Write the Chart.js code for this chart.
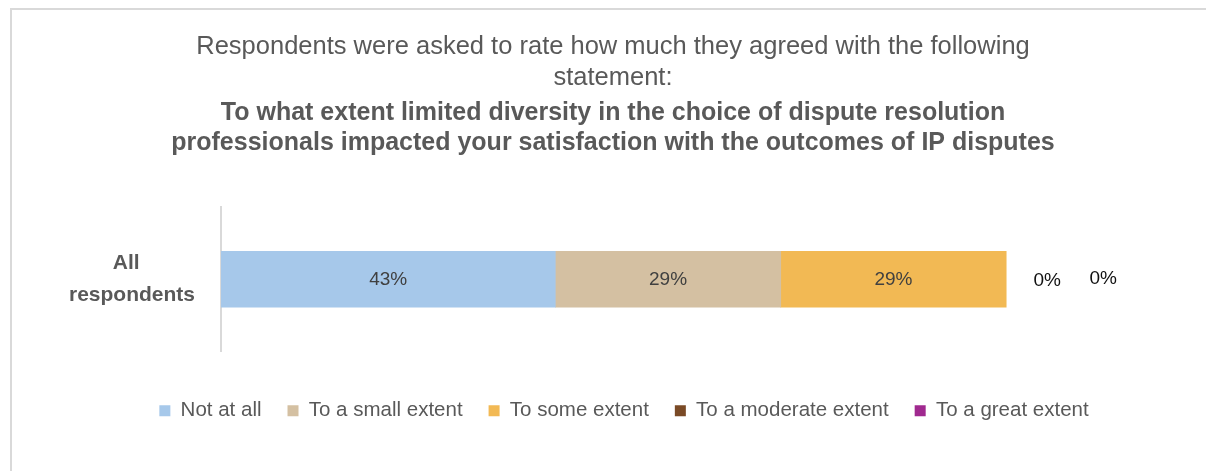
<!DOCTYPE html>
<html>
<head>
<meta charset="utf-8">
<script src="https://cdn.jsdelivr.net/npm/chart.js@4.4.1/dist/chart.umd.min.js"></script>
<style>
  html, body { margin: 0; padding: 0; background: #fff; }
  #wrap { position: relative; width: 1206px; height: 471px; overflow: hidden; }
  #frame { position: absolute; left: 10px; top: 8px; width: 1300px; height: 600px;
           border-left: 2px solid #d9d9d9; border-top: 2px solid #d9d9d9; box-sizing: border-box; }
  #myChart { position: absolute; left: 0; top: 0; }
</style>
</head>
<body>
<div id="wrap">
  <div id="frame"></div>
  <canvas id="myChart" width="1206" height="471"></canvas>
</div>
<script>
const CATEGORIES = [['All  ', 'respondents']];

const SERIES_NAMES = ['Not at all', 'To a small extent', 'To some extent', 'To a moderate extent', 'To a great extent'];
const SERIES_VALUES = [43, 29, 29, 0, 0];   // percent of respondents
const SERIES_COLORS = ['#a6c8ea', '#d4c0a2', '#f2b954', '#7a4a26', '#a0298f'];

const TITLE_LINES = ['Respondents were asked to rate how much they agreed with the following', 'statement:'];
const SUBTITLE_LINES = ['To what extent limited diversity in the choice of dispute resolution',
  'professionals impacted your satisfaction with the outcomes of IP disputes'];

const FONT = "'Liberation Sans', Arial, sans-serif";
const GREY = '#595959';

// value labels: inside the bar for non-zero parts, to the right of the bar for zero parts
const valueLabels = {
  id: 'valueLabels',
  afterDatasetsDraw(chart) {
    const c = chart.ctx;
    const xs = chart.scales.x;
    let zeroCount = 0;
    c.save();
    c.textAlign = 'center';
    c.textBaseline = 'middle';
    c.font = '19px ' + FONT;
    chart.data.datasets.forEach((ds, i) => {
      const bar = chart.getDatasetMeta(i).data[0];
      const v = ds.data[0];
      const txt = Math.round(v) + '%';
      if (v > 0) {
        c.fillStyle = '#404040';
        c.fillText(txt, (bar.base + bar.x) / 2, bar.y + 1);
      } else {
        let total = 0;
        chart.data.datasets.forEach(d => total += d.data[0]);
        const endX = xs.getPixelForValue(total);
        c.fillStyle = '#111';
        c.fillText(txt, endX + 41 + zeroCount * 56, bar.y + (zeroCount ? 0 : 2));
        zeroCount++;
      }
    });
    c.restore();
  }
};

// legend sits a little right of the canvas centre
const legendNudge = {
  id: 'legendNudge',
  afterLayout(chart) {
    chart.legend.left += 11;
    chart.legend.right += 11;
  }
};

const ctx = document.getElementById('myChart');

new Chart(ctx, {
  type: 'bar',
  data: {
    labels: CATEGORIES,
    datasets: SERIES_NAMES.map((name, i) => ({
      label: name,
      data: [SERIES_VALUES[i]],
      backgroundColor: SERIES_COLORS[i],
      borderWidth: 0,
      inflateAmount: SERIES_VALUES[i] === 0 ? 0 : 'auto',
      barThickness: 56
    }))
  },
  options: {
    indexAxis: 'y',
    responsive: false,
    animation: false,
    layout: { padding: { left: 20, right: 0, top: 0, bottom: 40 } },
    plugins: {
      tooltip: { enabled: false },
      title: {
        display: true,
        text: TITLE_LINES,
        color: GREY,
        font: { family: FONT, size: 25.5, weight: 'normal', lineHeight: 31 / 25.5 },
        padding: { top: 31.5, bottom: 0 }
      },
      subtitle: {
        display: true,
        text: SUBTITLE_LINES,
        color: GREY,
        font: { family: FONT, size: 25, weight: 'bold', lineHeight: 30 / 25 },
        padding: { top: 4.5, bottom: 49 }
      },
      legend: {
        position: 'bottom',
        labels: {
          color: GREY,
          boxWidth: 11,
          boxHeight: 11,
          padding: 26,
          font: { family: FONT, size: 20.5 }
        }
      }
    },
    scales: {
      x: {
        stacked: true,
        min: 0,
        max: 126.7,
        grid: { display: false },
        border: { display: false },
        ticks: { display: false },
        afterFit(scale) { scale.height = 23; }
      },
      y: {
        stacked: true,
        grid: { display: false },
        border: { display: true, color: '#d9d9d9', width: 2 },
        ticks: {
          color: GREY,
          crossAlign: 'center',
          padding: 18,
          font: { family: FONT, size: 21, weight: 'bold', lineHeight: 1.5 }
        },
        afterFit(scale) { scale.width = 201; }
      }
    }
  },
  plugins: [valueLabels, legendNudge]
});
</script>
</body>
</html>
